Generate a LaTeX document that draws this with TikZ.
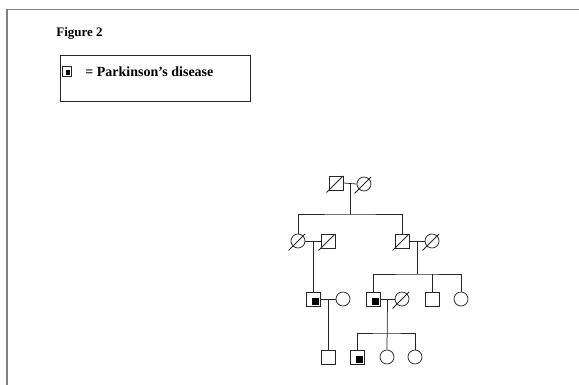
\documentclass[tikz,border=0pt]{standalone}
\usepackage{fontspec}
\setmainfont{Liberation Serif}
\usetikzlibrary{calc}
\tikzset{
  male/.style={draw, rectangle, minimum size=14pt, inner sep=0pt},
  female/.style={draw, circle, minimum size=14pt, inner sep=0pt},
  affected/.style={path picture={
    \fill ([shift={(-1pt,1pt)}]path picture bounding box.center)
      rectangle ([shift={(-1.3pt,1.3pt)}]path picture bounding box.south east);}},
  caption/.style={anchor=west, inner sep=0pt, font=\bfseries\fontsize{13}{14}\selectfont},
}

\begin{document}
\begin{tikzpicture}[x=1pt, y=-1pt, line width=0.75pt, draw=black!85]
  \useasboundingbox (0,0) rectangle (579,385);

  % 边框
  \draw[gray, line width=1.6pt] (7,385) -- (7,9.5) -- (579,9.5);

  % 标题与图例
  \node[caption] (title) at (56,33) {Figure 2};
  \node[draw, minimum width=190pt, minimum height=46pt] (legend) at (155,78) {};
  \node[male, affected, minimum size=9.5pt] (key) at (67,71.5) {};
  \node[caption, font=\bfseries\fontsize{14}{15}\selectfont] (keytext) at (85,72) {= Parkinson's disease};

  % 第一代
  \node[male]   (g1m) at (336,183) {};
  \node[female] (g1f) at (364,184) {};

  % 第二代
  \node[female] (g2a) at (298,241) {};
  \node[male]   (g2b) at (328,241) {};
  \node[male]   (g2c) at (402,241) {};
  \node[female] (g2d) at (432,241) {};

  % 第三代
  \node[male, affected] (g3a) at (313,299) {};
  \node[female]         (g3b) at (343,299) {};
  \node[male, affected] (g3c) at (373,299) {};
  \node[female]         (g3d) at (402,299) {};
  \node[male]           (g3e) at (432,299) {};
  \node[female]         (g3f) at (461,299) {};

  % 第四代
  \node[male]           (g4a) at (328,357) {};
  \node[male, affected] (g4b) at (357,357) {};
  \node[female]         (g4c) at (387,357) {};
  \node[female]         (g4d) at (415,357) {};

  % 婚配线
  \draw (g1m.east) -- (g1f.west);
  \draw (g2a.east) -- (g2b.west);
  \draw (g2c.east) -- (g2d.west);
  \draw (g3a.east) -- (g3b.west);
  \draw (g3c.east) -- (g3d.west);

  % 亲子线
  \coordinate (m1) at ($(g1m.east)!0.5!(g1f.west)$);
  \coordinate (s1) at (m1 |- 0,214);
  \draw (m1) -- (s1);
  \draw (g2a.north) |- (s1) -| (g2c.north);

  \coordinate (m2) at ($(g2a.east)!0.5!(g2b.west)$);
  \draw (m2) -- (g3a.north);

  \coordinate (m3) at ($(g2c.east)!0.5!(g2d.west)$);
  \coordinate (s3) at (m3 |- 0,274);
  \draw (m3) -- (s3);
  \draw (g3c.north) |- (s3) -| (g3f.north);
  \draw (g3e.north) -- (g3e.north |- s3);

  \coordinate (m4) at ($(g3a.east)!0.5!(g3b.west)$);
  \draw (m4) -- (m4 |- g4a.north);

  \coordinate (m5) at ($(g3c.east)!0.5!(g3d.west)$);
  \coordinate (s5) at (m5 |- 0,333);
  \draw (m5) -- (g4c.north);
  \draw (g4b.north) |- (s5) -| (g4d.north);

  % 死亡斜线
  \foreach \n in {g1m,g1f,g2a,g2b,g2c,g2d,g3d}
    \draw ([shift={(-9.5pt,-9.5pt)}]\n.center) -- ([shift={(7pt,7pt)}]\n.center);
\end{tikzpicture}
\end{document}
